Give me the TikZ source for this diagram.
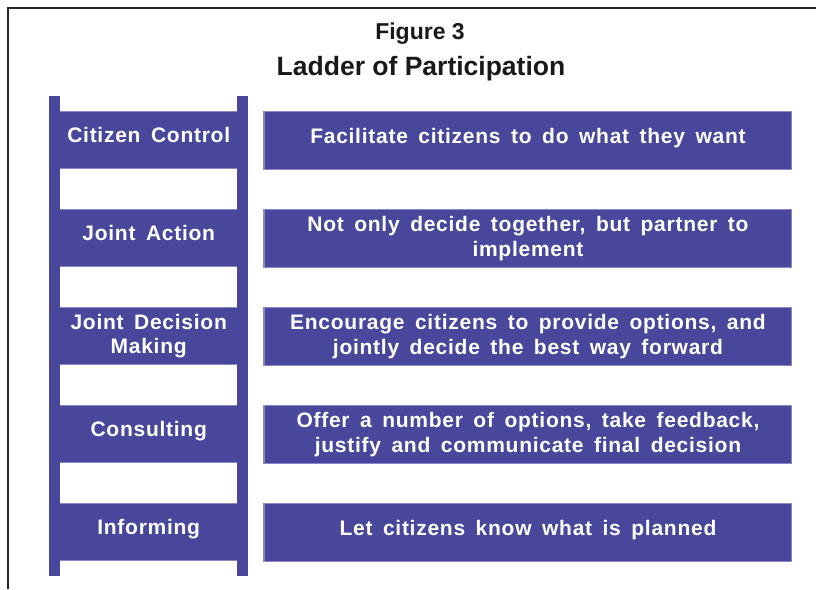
\documentclass[tikz,border=0pt]{standalone}
\usepackage{fontspec}
\setmainfont{Liberation Sans}
\newfontfamily\ladderfont[LetterSpace=3.5,WordSpace=1.6]{Liberation Sans}
\usepackage{tikz}
\usetikzlibrary{shapes,arrows,positioning}
\definecolor{ladderblue}{RGB}{73,71,155}
\definecolor{ladderedge}{RGB}{138,136,200}

\begin{document}
\begin{tikzpicture}[x=1pt, y=1pt,
      block_rung/.style ={rectangle, draw=ladderedge, line width=1.5pt, fill=ladderblue,
        text=white, align=center, font=\ladderfont\bfseries\fontsize{21}{24.5}\selectfont,
        minimum width=198pt, minimum height=57pt, inner sep=2pt, outer sep=0pt},
      block_desc/.style ={rectangle, draw=ladderedge, line width=1.5pt, fill=ladderblue,
        text=white, align=center, font=\ladderfont\bfseries\fontsize{21}{25}\selectfont,
        minimum width=527.5pt, minimum height=58pt, inner sep=2pt, outer sep=0pt},
      one_line/.style ={text height=14pt, text depth=8.5pt},
      block_rail/.style ={fill=ladderblue, draw=none},
      block_title/.style ={anchor=base, text=black!90, font=\bfseries\fontsize{23}{27}\selectfont},
      frame/.style ={draw=black!85, line width=2pt}]
    \useasboundingbox (0,0) rectangle (816,589);
    %
    % 0. heading and frame
    \draw[frame] (8,0) -- (8,581) -- (816,581);
    \node [block_title] (fig) at (420,549) {Figure 3};
    \node [block_title, font=\bfseries\fontsize{26.5}{30}\selectfont] (title) at (421,513.5)
      {Ladder of Participation};
    %
    % 1. rungs and descriptions using the matrix
    \matrix [column sep=15pt, row sep=38.5pt, inner sep=0pt, anchor=north west] (ladder) at (48.75,478.25) {
      % rung 1
      \node [block_rung, one_line] (cc) {Citizen Control};
      & \node [block_desc, one_line] (cc_txt) {Facilitate citizens to do what they want}; \\
      % rung 2
      \node [block_rung, one_line] (ja) {Joint Action};
      & \node [block_desc] (ja_txt) {Not only decide together, but partner to\\implement}; \\
      % rung 3
      \node [block_rung] (jdm) {Joint Decision\\Making};
      & \node [block_desc] (jdm_txt) {Encourage citizens to provide options, and\\jointly decide the best way forward}; \\
      % rung 4
      \node [block_rung, one_line] (cons) {Consulting};
      & \node [block_desc] (cons_txt) {Offer a number of options, take feedback,\\justify and communicate final decision}; \\
      % rung 5
      \node [block_rung, one_line] (inf) {Informing};
      & \node [block_desc, one_line] (inf_txt) {Let citizens know what is planned}; \\
    };% end matrix
    %
    % 2. the two rails of the ladder
    \begin{scope}[every path/.style=block_rail]
      \path ([xshift=-0.75pt, yshift=15.75pt]cc.north west) rectangle ([xshift=10.25pt, yshift=-15.75pt]inf.south west);
      \path ([xshift=-10.25pt, yshift=15.75pt]cc.north east) rectangle ([xshift=0.75pt, yshift=-15.75pt]inf.south east);
    \end{scope}
  \end{tikzpicture}
\end{document}
